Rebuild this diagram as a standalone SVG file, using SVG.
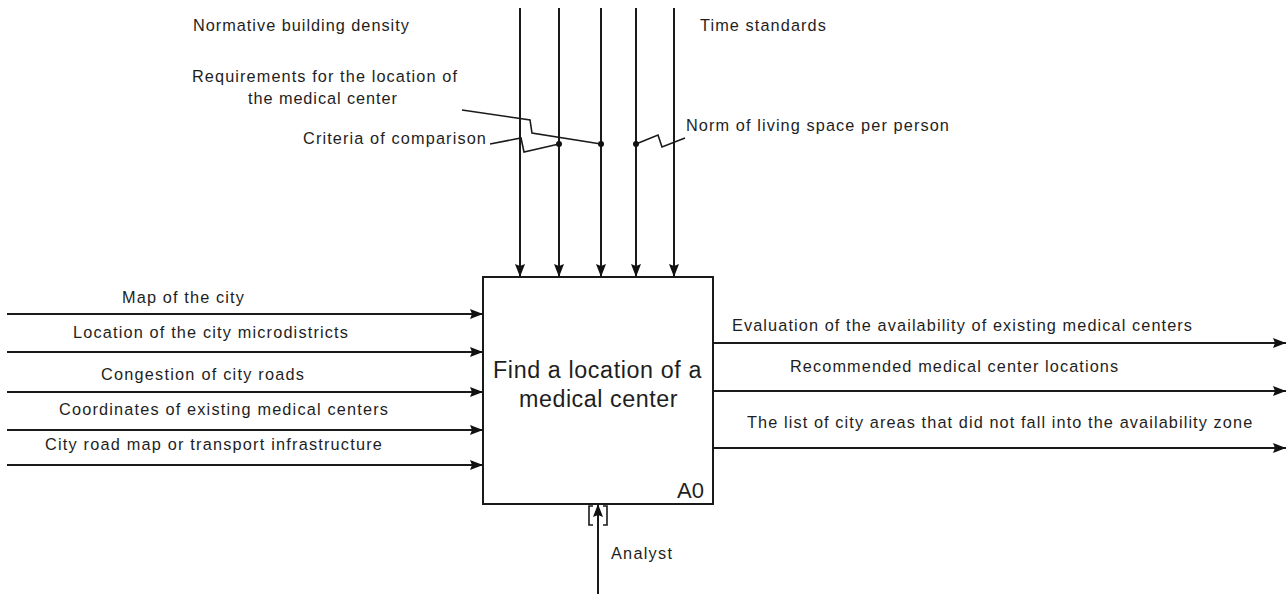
<svg xmlns="http://www.w3.org/2000/svg" width="1288" height="594" viewBox="0 0 1288 594">
  <defs>
    <marker id="arr" markerUnits="userSpaceOnUse" markerWidth="14" markerHeight="11" refX="13" refY="5" orient="auto">
      <path d="M0,0 L13,5 L0,10 L2,5 z" fill="#111"/>
    </marker>
    <style>
      .ln { fill: none; stroke: #1a1a1a; stroke-width: 2; }
      .ld { fill: none; stroke: #1a1a1a; stroke-width: 1.6; }
      .ar { marker-end: url(#arr); }
      .t { font-family: "Liberation Sans", Arial, sans-serif; font-size: 16.3px; letter-spacing: 1.1px; fill: #1e1e1e; }
      .tb { font-family: "Liberation Sans", Arial, sans-serif; font-size: 23.3px; letter-spacing: 0.6px; fill: #1e1e1e; }
      .dot { fill: #111; }
    </style>
  </defs>
  <rect width="1288" height="594" fill="#ffffff"/>

  <g id="connectors">
    <!-- controls -->
    <path class="ln ar" d="M520,8 V277"/>
    <path class="ln ar" d="M559,8 V277"/>
    <path class="ln ar" d="M601,8 V277"/>
    <path class="ln ar" d="M636,8 V277"/>
    <path class="ln ar" d="M674,8 V277"/>
    <!-- leaders -->
    <path class="ld" d="M462,110 L530,120 L532,133 L601,144"/>
    <path class="ld" d="M490,144 L521,138 L524,152 L559,144"/>
    <path class="ld" d="M636,144 L658,135 L662,147 L685,138"/>
    <circle class="dot" cx="559" cy="144" r="3"/>
    <circle class="dot" cx="601" cy="144" r="3"/>
    <circle class="dot" cx="636" cy="144" r="3"/>
    <!-- inputs -->
    <path class="ln ar" d="M7,314 H483"/>
    <path class="ln ar" d="M7,352 H483"/>
    <path class="ln ar" d="M7,392 H483"/>
    <path class="ln ar" d="M7,430 H483"/>
    <path class="ln ar" d="M7,465 H483"/>
    <!-- outputs -->
    <path class="ln ar" d="M713,343 H1286"/>
    <path class="ln ar" d="M713,391 H1286"/>
    <path class="ln ar" d="M713,448 H1286"/>
    <!-- mechanism -->
    <path class="ln ar" d="M598,594 V504"/>
    <path class="ld" d="M593,506 H589 V525 H593"/>
    <path class="ld" d="M603,506 H607 V525 H603"/>
  </g>

  <g id="A0">
    <rect x="483" y="277" width="230" height="227" fill="#ffffff" stroke="#1a1a1a" stroke-width="2"/>
    <text class="tb" x="493" y="378" textLength="209">Find a location of a</text>
    <text class="tb" x="519" y="407" textLength="159">medical center</text>
    <text class="tb" x="677" y="498" style="font-size:22px;letter-spacing:0">A0</text>
  </g>

  <g id="labels-controls">
    <text class="t" x="193" y="31" textLength="217">Normative building density</text>
    <text class="t" x="700" y="31" textLength="127">Time standards</text>
    <text class="t" x="192" y="82" textLength="266">Requirements for the location of</text>
    <text class="t" x="248" y="104" textLength="150">the medical center</text>
    <text class="t" x="303" y="144" textLength="184">Criteria of comparison</text>
    <text class="t" x="686" y="131">Norm of living space per person</text>
  </g>

  <g id="labels-inputs">
    <text class="t" x="122" y="303" textLength="123">Map of the city</text>
    <text class="t" x="73" y="338" textLength="276">Location of the city microdistricts</text>
    <text class="t" x="101" y="380" textLength="204">Congestion of city roads</text>
    <text class="t" x="59" y="415" textLength="330">Coordinates of existing medical centers</text>
    <text class="t" x="45" y="450" textLength="338">City road map or transport infrastructure</text>
  </g>

  <g id="labels-outputs">
    <text class="t" x="732" y="331">Evaluation of the availability of existing medical centers</text>
    <text class="t" x="790" y="372">Recommended medical center locations</text>
    <text class="t" x="747" y="428">The list of city areas that did not fall into the availability zone</text>
  </g>

  <g id="labels-mechanism">
    <text class="t" x="611" y="559" textLength="62">Analyst</text>
  </g>
</svg>
